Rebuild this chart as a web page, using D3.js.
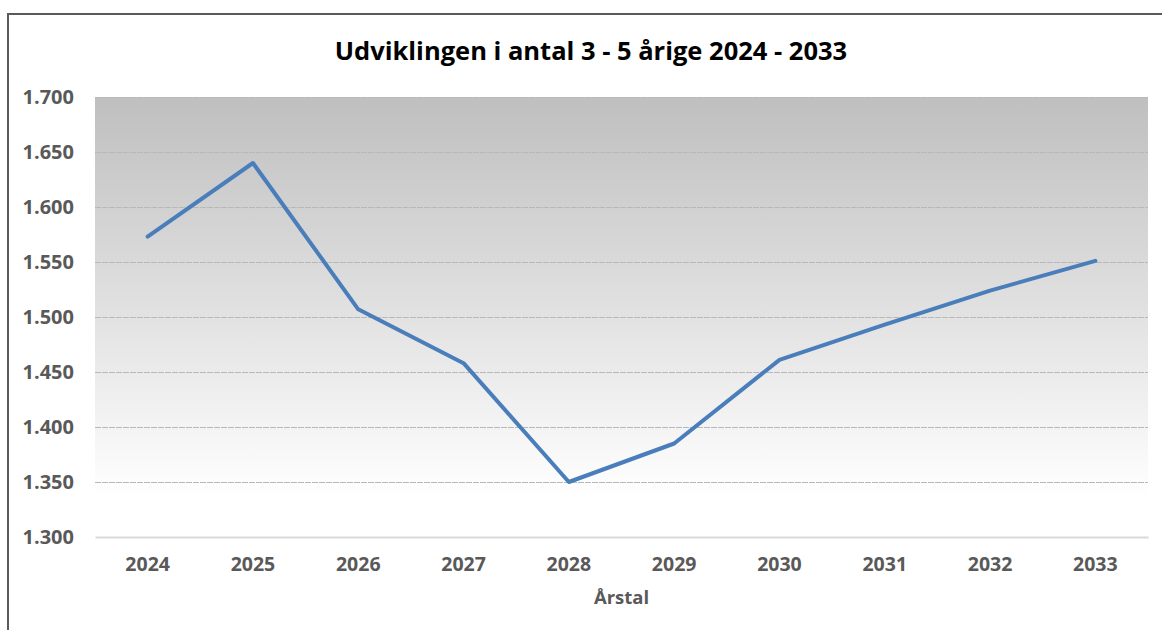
<!DOCTYPE html>
<html>
<head>
<meta charset="utf-8">
<script src="https://cdn.jsdelivr.net/npm/d3@7"></script>
<style>
  body { margin: 0; background: #fff; }
  svg { display: block; font-family: "Open Sans", sans-serif; }
</style>
</head>
<body>
<svg id="chart" width="1162" height="630"></svg>
<script>
const years = ['2024', '2025', '2026', '2027', '2028', '2029', '2030', '2031', '2032', '2033']
const children = [1573, 1640, 1507, 1458, 1350, 1385, 1461, 1493, 1524, 1551]
const yTicks = [1300, 1350, 1400, 1450, 1500, 1550, 1600, 1650, 1700]

const title = 'Udviklingen i antal 3 - 5 årige 2024 - 2033'
const xTitle = 'Årstal'

const svg = d3.select('#chart')
const W = 1162, H = 630
const m = {top: 97, left: 95, right: 14, bottom: 93}
const w = W - m.left - m.right
const h = H - m.top - m.bottom

const dk = d3.formatLocale({decimal: ',', thousands: '.', grouping: [3], currency: ['', ' kr']})
const fmt = dk.format(',d')

// frame (top and left edges of the chart box)
svg.append('path')
    .attr('d', `M8,${H} L8,14 L${W},14`)
    .attr('fill', 'none')
    .attr('stroke', '#5a5a5a')
    .attr('stroke-width', 2)

const defs = svg.append('defs')
const grad = defs.append('linearGradient')
    .attr('id', 'bg')
    .attr('x1', 0).attr('y1', 0).attr('x2', 0).attr('y2', 1)
grad.append('stop').attr('offset', '0%').attr('stop-color', '#bfbfbf')
grad.append('stop').attr('offset', '91%').attr('stop-color', '#ffffff')
grad.append('stop').attr('offset', '100%').attr('stop-color', '#ffffff')

const g = svg.append('g').attr('transform', `translate(${m.left},${m.top})`)

const x = d3.scaleBand().domain(years).range([0, w]).padding(0)
const y = d3.scaleLinear().domain([1300, 1700]).range([h, 0])

g.append('rect')
    .attr('width', w)
    .attr('height', h)
    .attr('fill', 'url(#bg)')

// horizontal gridlines
const grid = g.append('g')
    .call(d3.axisLeft(y).tickValues(yTicks.slice(1)).tickSize(-w).tickFormat(''))
grid.select('.domain').remove()
grid.selectAll('line')
    .attr('stroke', '#b8b8b8')
    .attr('stroke-width', 1)
    .attr('stroke-dasharray', '6,1')

// y labels
const yAxis = g.append('g')
    .call(d3.axisLeft(y).tickValues(yTicks).tickSize(0).tickPadding(21).tickFormat(fmt))
yAxis.select('.domain').remove()
yAxis.selectAll('text')
    .attr('fill', '#595959')
    .attr('dy', '0.3em')
    .style('font-size', '20px')
    .style('font-weight', 'bold')
    .style('font-family', '"Open Sans", sans-serif')

// x axis
const xAxis = g.append('g')
    .attr('transform', `translate(0,${h})`)
    .call(d3.axisBottom(x).tickSize(0).tickPadding(20))
xAxis.select('.domain')
    .attr('stroke', '#d9d9d9')
    .attr('stroke-width', 2)
xAxis.selectAll('text')
    .attr('fill', '#595959')
    .style('font-size', '19.5px')
    .style('font-weight', 'bold')
    .style('font-family', '"Open Sans", sans-serif')

const line = d3.line()
    .x((d, i) => x(years[i]) + x.bandwidth() / 2)
    .y(d => y(d))

g.append('path')
    .datum(children)
    .attr('d', line)
    .attr('fill', 'none')
    .attr('stroke', '#4a7ebb')
    .attr('stroke-width', 4)
    .attr('stroke-linejoin', 'round')
    .attr('stroke-linecap', 'round')

svg.append('text')
    .attr('x', 591)
    .attr('y', 60)
    .attr('text-anchor', 'middle')
    .attr('fill', '#000')
    .style('font-size', '25.5px')
    .style('font-weight', 'bold')
    .text(title)

svg.append('text')
    .attr('x', m.left + w / 2)
    .attr('y', 604)
    .attr('text-anchor', 'middle')
    .attr('fill', '#595959')
    .style('font-size', '18.5px')
    .style('font-weight', 'bold')
    .text(xTitle)
</script>
</body>
</html>
